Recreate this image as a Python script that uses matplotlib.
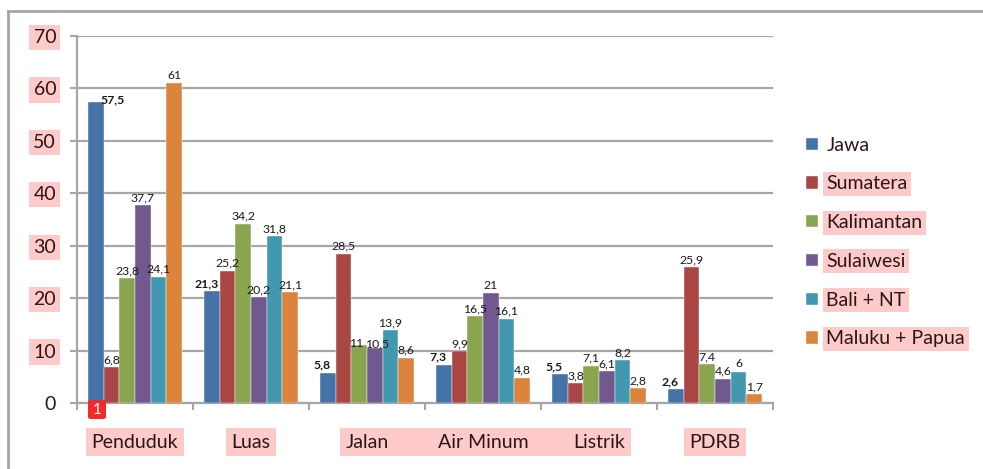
import matplotlib
matplotlib.use("Agg")
import matplotlib.pyplot as plt
import numpy as np
from matplotlib.patches import FancyBboxPatch, Rectangle
from matplotlib.lines import Line2D

plt.rcParams['font.family'] = ['Lato', 'DejaVu Sans']

categories = ["Penduduk", "Luas", "Jalan", "Air Minum", "Listrik", "PDRB"]
series_names = ["Jawa", "Sumatera", "Kalimantan", "Sulaiwesi", "Bali + NT", "Maluku + Papua"]
jawa = [57.5, 21.3, 5.8, 7.3, 5.5, 2.6]
sumatera = [6.8, 25.2, 28.5, 9.9, 3.8, 25.9]
kalimantan = [23.8, 34.2, 11, 16.5, 7.1, 7.4]
sulawesi = [37.7, 20.2, 10.5, 21, 6.1, 4.6]
bali_nt = [24.1, 31.8, 13.9, 16.1, 8.2, 6]
maluku_papua = [61, 21.1, 8.6, 4.8, 2.8, 1.7]
series_values = [jawa, sumatera, kalimantan, sulawesi, bali_nt, maluku_papua]
yticks = [0, 10, 20, 30, 40, 50, 60, 70]

colors = ["#4572A7", "#AA4643", "#89A54E", "#71588F", "#4198AF", "#DB843D"]
pink = "#FFCACA"
txt = "#2a1616"
gray = "#A6A6A6"

fig = plt.figure(figsize=(9.83, 4.69), dpi=100)
ax = fig.add_axes([77/983, 1-403/469, (773-77)/983, (403-36)/469])

n = len(categories)
x = np.arange(n) + 0.5
bw = 0.135
offsets = (np.arange(6) - 2.5) * bw

def fmt(v):
    return ("%g" % v).replace(".", ",")

for i, (name, vals, c) in enumerate(zip(series_names, series_values, colors)):
    bars = ax.bar(x + offsets[i], vals, width=bw, color=c, label=name,
                  edgecolor='white', linewidth=0.3, zorder=3)
    for j, (b, v) in enumerate(zip(bars, vals)):
        cx = b.get_x() + b.get_width() / 2
        dx, dy = 0, 1.5
        weight = 'normal'
        if i == 0:
            weight = 'bold'
            dx, dy = (12, -3) if j == 0 else (-4, 1.5)
        elif i == 2 and j == 2:
            dx, dy = (-2.5, -3)
        elif i == 3 and j == 2:
            dx, dy = (1.5, -1)
        ax.annotate(fmt(v), (cx, v), xytext=(dx, dy), textcoords='offset points',
                    ha='center', va='bottom', fontsize=8.8, fontweight=weight,
                    color='#1a1a1a', zorder=4)

ax.set_xlim(0, n)
ax.set_ylim(0, 70)
ax.set_yticks(yticks)
ax.set_yticklabels([str(t) for t in yticks])
ax.yaxis.grid(True, color=gray, linewidth=1.6, zorder=0)
ax.set_axisbelow(True)

ax.set_xticks(np.arange(n + 1))
ax.set_xticklabels([])
ax.set_xticks(x, minor=True)
ax.set_xticklabels(categories, minor=True)
ax.tick_params(axis='x', which='major', length=5, width=1.5, color=gray, direction='out')
ax.tick_params(axis='x', which='minor', length=0, pad=22, labelsize=14, labelcolor=txt)
ax.tick_params(axis='y', length=5, width=1.5, color=gray, labelsize=14, labelcolor=txt, pad=10)

for s in ['top', 'right']:
    ax.spines[s].set_visible(False)
for s in ['left', 'bottom']:
    ax.spines[s].set_color(gray)
    ax.spines[s].set_linewidth(1.6)

for lab in ax.get_yticklabels():
    if lab.get_text() != "0":
        lab.set_bbox(dict(facecolor=pink, edgecolor='none', pad=3))
for lab in ax.get_xticklabels(minor=True):
    lab.set_bbox(dict(facecolor=pink, edgecolor='none', pad=4))

leg = ax.legend(loc='center left', bbox_to_anchor=(806/983, 1 - 242/469),
                bbox_transform=fig.transFigure, frameon=False, fontsize=14,
                handlelength=0.6, handleheight=0.6, handletextpad=0.45,
                labelspacing=1.12, borderpad=0, borderaxespad=0)
for t in leg.get_texts():
    t.set_color(txt)
    if t.get_text() != "Jawa":
        t.set_bbox(dict(facecolor=pink, edgecolor='none', pad=2.5))

# continuous highlight spanning Jalan .. Listrik (from rendered label boxes)
fig.canvas.draw()
r = fig.canvas.get_renderer()
xl = ax.get_xticklabels(minor=True)
b1 = xl[2].get_bbox_patch().get_window_extent(r)
b2 = xl[4].get_bbox_patch().get_window_extent(r)
W, H = fig.bbox.width, fig.bbox.height
ax.add_patch(Rectangle((b1.x0 / W, b1.y0 / H), (b2.x1 - b1.x0) / W, (b1.y1 - b1.y0) / H,
                       transform=fig.transFigure, facecolor=pink, edgecolor='none',
                       clip_on=False, zorder=0.1))

# outer frame (top and left edges)
fig.add_artist(Line2D([8/983, 1], [1 - 11/469, 1 - 11/469], color=gray, linewidth=2,
                      transform=fig.transFigure))
fig.add_artist(Line2D([8/983, 8/983], [1 - 11/469, 0], color=gray, linewidth=2,
                      transform=fig.transFigure))

# badge
fig.add_artist(FancyBboxPatch((88/983, 1 - 419/469), 18/983, 19/469,
                              boxstyle="round,pad=0,rounding_size=0.004",
                              facecolor="#F22A2A", edgecolor='none',
                              transform=fig.transFigure, zorder=10))
fig.text(97/983, 1 - 409.5/469, "1", color='white', fontsize=11, ha='center', va='center',
         zorder=11)

fig.savefig("out.png", dpi=100)
